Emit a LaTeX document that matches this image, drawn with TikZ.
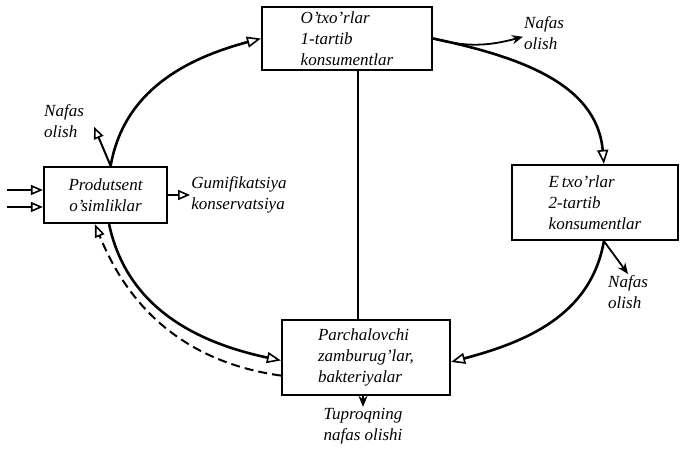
\documentclass[tikz,border=0pt]{standalone}
\usepackage{fontspec}
\setmainfont{Liberation Serif}
\usetikzlibrary{arrows.meta,positioning}

\begin{document}
\begin{tikzpicture}[x=1pt, y=1pt,
    txt/.style={font=\fontsize{17}{21}\selectfont\itshape, align=left, inner sep=1pt},
    level/.style={txt, rectangle, draw=black, line width=2.2pt},
    flow/.style={line width=2.6pt, -{Triangle[open, length=14pt, width=11pt, line width=1.6pt]}},
    back/.style={line width=2pt, dash pattern=on 9pt off 5pt, -{Triangle[open, length=13pt, width=10pt, line width=1.6pt]}},
    side/.style={line width=2pt, -{Triangle[open, length=12pt, width=10pt, line width=1.6pt]}},
    resp/.style={line width=1.8pt, -{Stealth[length=11pt, width=9pt]}}]

    \useasboundingbox (0,0) rectangle (681,453);

    % Trophic levels
    \node[level, minimum width=123pt, minimum height=56pt, align=center] (prod) at (105.5,258) {Produtsent\\o'simliklar};
    \node[level, minimum width=170pt, minimum height=63pt] (kons1) at (347,414.5) {O'txo'rlar\\1-tartib\\konsumentlar};
    \node[level, minimum width=166pt, minimum height=75pt] (kons2) at (595,250.5) {E\,txo'rlar\\2-tartib\\konsumentlar};
    \node[level, minimum width=168pt, minimum height=75pt] (parch) at (366,95.5) {Parchalovchi\\zamburug'lar,\\bakteriyalar};

    % Side labels
    \node[txt, anchor=north west] (nafasL) at (43,350) {Nafas\\olish};
    \node[txt, right=22pt of prod] (gumi) {Gumifikatsiya\\konservatsiya};
    \node[txt, anchor=north west] (nafasT) at (523,438) {Nafas\\olish};
    \node[txt, anchor=north west] (nafasR) at (607,179) {Nafas\\olish};
    \node[txt, align=center] (tupr) at (363,27) {Tuproqning\\nafas olishi};

    % Main cycle
    \draw[flow] (prod.80) to[out=80, in=195] (kons1.west);
    \draw[flow] (kons1.east) to[out=-12, in=95] (kons2.77);
    \draw[flow] (kons2.-77) to[out=-100, in=15] (parch.-3);
    \draw[flow] (prod.-83) to[out=-78, in=168] (parch.182);
    \draw[back] (parch.192) to[out=172, in=-68] (prod.-110);

    % Link between consumers and decomposers
    \coordinate (link) at (358,0);
    \draw[line width=2pt] (kons1.south -| link) -- (parch.north -| link);

    % Inputs and outputs
    \coordinate (sun1) at (7,263);
    \coordinate (sun2) at (7,246);
    \draw[side] (sun1) -- (sun1 -| prod.west);
    \draw[side] (sun2) -- (sun2 -| prod.west);
    \draw[side] (prod.east) -- (gumi.west);
    \draw[side] (prod.80) -- ([xshift=9pt, yshift=-6pt]nafasL.east);
    \draw[resp] (kons1.east) to[out=-15, in=195] ([yshift=-4pt]nafasT.west);
    \draw[resp] (kons2.-77) -- (nafasR.north);
    \draw[resp] (tupr.north |- parch.south) -- (tupr.north);

\end{tikzpicture}
\end{document}
